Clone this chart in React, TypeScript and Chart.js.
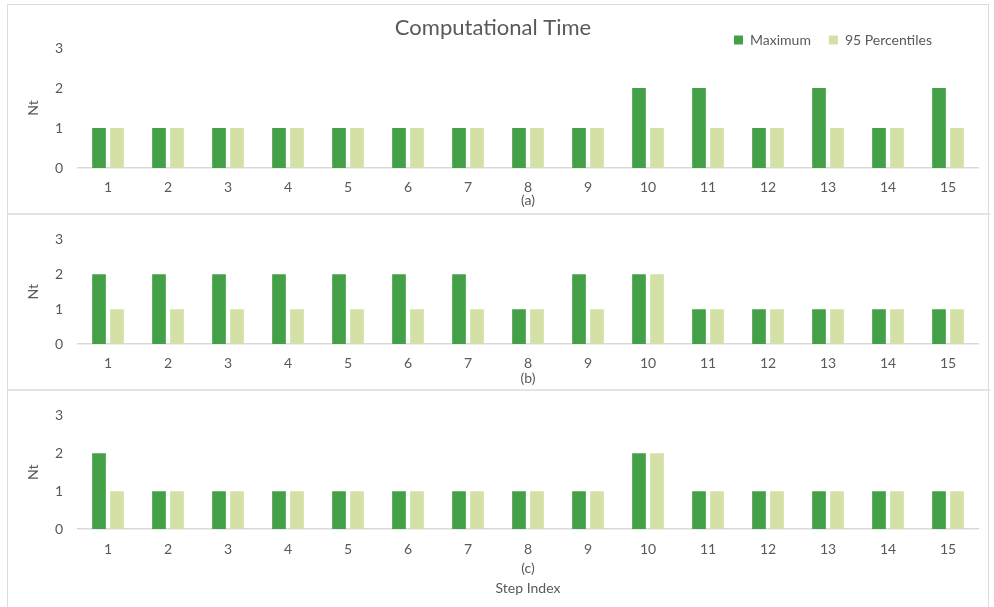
import React, { useEffect, useRef } from 'react';
import { Chart, registerables } from 'chart.js';

Chart.register(...registerables);

// ---------- data ----------
const categories = ['1', '2', '3', '4', '5', '6', '7', '8', '9', '10', '11', '12', '13', '14', '15'];
const seriesNames = ['Maximum', '95 Percentiles'];
const chartTitle = 'Computational Time';
const yAxisTitle = 'Nt';
const xAxisTitle = 'Step Index';
const panelLabels = ['(a)', '(b)', '(c)'];
const yMin = 0;
const yMax = 3;
const yStep = 1;

const maxA = [1, 1, 1, 1, 1, 1, 1, 1, 1, 2, 2, 1, 2, 1, 2];
const pctA = [1, 1, 1, 1, 1, 1, 1, 1, 1, 1, 1, 1, 1, 1, 1];
const maxB = [2, 2, 2, 2, 2, 2, 2, 1, 2, 2, 1, 1, 1, 1, 1];
const pctB = [1, 1, 1, 1, 1, 1, 1, 1, 1, 2, 1, 1, 1, 1, 1];
const maxC = [2, 1, 1, 1, 1, 1, 1, 1, 1, 2, 1, 1, 1, 1, 1];
const pctC = [1, 1, 1, 1, 1, 1, 1, 1, 1, 2, 1, 1, 1, 1, 1];

// ---------- styles ----------
const GREEN = '#43A047';
const LIGHT = '#D3E1A6';
const TEXT = '#595959';
const AXIS = '#d9d9d9';
const FONT = 'Lato, "Open Sans", sans-serif';

Chart.defaults.font.family = FONT;
Chart.defaults.color = TEXT;

const legendShift = {
  id: 'legendShift',
  afterLayout(chart: any, _args: any, opts: any) {
    const lg = chart.legend;
    if (lg && opts && opts.dx) {
      lg.left -= opts.dx;
      lg.right -= opts.dx;
    }
  },
};

type PanelProps = {
  maxVals: number[];
  pctVals: number[];
  xTitle: string | string[];
  header: boolean;
  width: number;
  height: number;
  xHeight: number;
  padTop: number;
  tickPad: number;
  titlePadBottom: number;
  titleLineHeight: number;
  left: number;
  top: number;
};

function Panel(p: PanelProps) {
  const ref = useRef<HTMLCanvasElement | null>(null);
  useEffect(() => {
    if (!ref.current) return;
    const chart = new Chart(ref.current, {
      type: 'bar',
      data: {
        labels: categories,
        datasets: [
          {
            label: seriesNames[0],
            data: p.maxVals,
            backgroundColor: GREEN,
            categoryPercentage: 0.6,
            barPercentage: 0.76,
          },
          {
            label: seriesNames[1],
            data: p.pctVals,
            backgroundColor: LIGHT,
            categoryPercentage: 0.6,
            barPercentage: 0.76,
          },
        ],
      },
      plugins: [legendShift],
      options: {
        animation: false,
        responsive: false,
        maintainAspectRatio: false,
        layout: { padding: { top: p.padTop, right: 11, left: 0, bottom: 0 } },
        plugins: {
          tooltip: { enabled: false },
          title: {
            display: p.header,
            text: chartTitle,
            color: TEXT,
            font: { size: 22, weight: 'normal' },
            padding: { top: 8.8, bottom: -26.2 },
          },
          legend: {
            display: p.header,
            position: 'top',
            align: 'end',
            maxHeight: 33,
            labels: {
              boxWidth: 9,
              boxHeight: 9,
              padding: 18,
              color: TEXT,
              font: { size: 14 },
            },
          },
          legendShift: { dx: p.header ? 28 : 0 },
        } as any,
        scales: {
          x: {
            grid: { display: false, drawTicks: false },
            border: { display: true, color: AXIS, width: 1.5 },
            ticks: { padding: p.tickPad, color: TEXT, font: { size: 14 } },
            title: {
              display: true,
              text: p.xTitle,
              color: TEXT,
              font: { size: 14, lineHeight: p.titleLineHeight },
              padding: { top: 0, bottom: p.titlePadBottom },
            },
            afterFit: (s: any) => {
              s.height = p.xHeight;
            },
          },
          y: {
            min: yMin,
            max: yMax,
            grid: { display: false, drawTicks: false },
            border: { display: false },
            ticks: { stepSize: yStep, padding: 15, color: TEXT, font: { size: 14 } },
            title: {
              display: true,
              text: yAxisTitle,
              color: TEXT,
              font: { size: 14 },
              padding: { top: 16.6, bottom: 0 },
            },
            afterFit: (s: any) => {
              s.width = 70;
            },
          },
        },
      },
    });
    return () => chart.destroy();
  }, []);
  return (
    <canvas
      ref={ref}
      width={p.width}
      height={p.height}
      style={{ position: 'absolute', left: p.left, top: p.top, width: p.width, height: p.height }}
    />
  );
}

export default function App() {
  return (
    <div style={{ position: 'absolute', left: 0, top: 0, width: 994, height: 607, overflow: 'hidden', background: '#fff' }}>
      <div
        style={{
          position: 'absolute',
          left: 7,
          top: 4,
          width: 982,
          height: 640,
          border: '1px solid #dcdcdc',
          boxSizing: 'border-box',
        }}
      />
      <div style={{ position: 'absolute', left: 7, top: 213, width: 983, height: 2, background: '#e4e4e4' }} />
      <div style={{ position: 'absolute', left: 7, top: 389, width: 983, height: 2, background: '#e4e4e4' }} />
      <Panel
        maxVals={maxA}
        pctVals={pctA}
        xTitle={panelLabels[0]}
        header={true}
        width={981}
        height={207}
        xHeight={45}
        padTop={0}
        tickPad={10.6}
        titlePadBottom={4.6}
        titleLineHeight={1.2}
        left={8}
        top={6}
      />
      <Panel
        maxVals={maxB}
        pctVals={pctB}
        xTitle={panelLabels[1]}
        header={false}
        width={981}
        height={173}
        xHeight={45}
        padTop={11}
        tickPad={10.6}
        titlePadBottom={2.6}
        titleLineHeight={1.2}
        left={8}
        top={216}
      />
      <Panel
        maxVals={maxC}
        pctVals={pctC}
        xTitle={[panelLabels[2], xAxisTitle]}
        header={false}
        width={981}
        height={215}
        xHeight={78}
        padTop={11}
        tickPad={11.6}
        titlePadBottom={9}
        titleLineHeight={20 / 14}
        left={8}
        top={392}
      />
    </div>
  );
}
